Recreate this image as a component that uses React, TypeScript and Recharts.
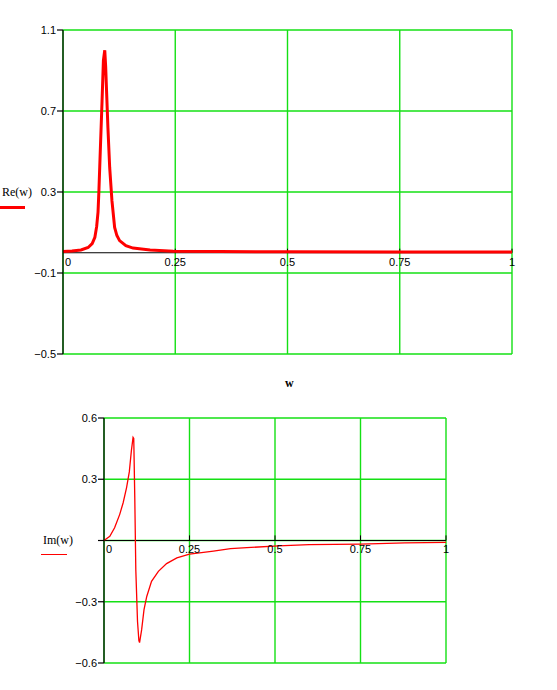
import React from "react";
import { LineChart, Line, XAxis, YAxis, CartesianGrid, ReferenceLine, ReferenceDot } from "recharts";

// Re(w): frequency and value
const reW = [0, 0.02, 0.04, 0.056, 0.065, 0.071, 0.075, 0.078, 0.08, 0.083, 0.087, 0.09, 0.093, 0.095, 0.097, 0.1, 0.104, 0.109, 0.115, 0.12, 0.126, 0.14, 0.156, 0.194, 0.246, 0.35, 0.5, 0.75, 1];
const reVal = [0.006, 0.009, 0.014, 0.026, 0.045, 0.076, 0.13, 0.2, 0.306, 0.5, 0.75, 0.95, 1.0, 0.92, 0.8, 0.62, 0.42, 0.257, 0.125, 0.085, 0.06, 0.035, 0.023, 0.014, 0.008, 0.006, 0.005, 0.004, 0.004];

// Im(w): lower plot
const imW = [0, 0.017, 0.031, 0.046, 0.056, 0.066, 0.074, 0.08, 0.085, 0.087, 0.09, 0.093, 0.098, 0.102, 0.104, 0.11, 0.117, 0.125, 0.139, 0.159, 0.183, 0.213, 0.25, 0.32, 0.37, 0.43, 0.51, 0.6, 0.75, 0.88, 1];
const imVal = [0, 0.021, 0.062, 0.128, 0.185, 0.259, 0.336, 0.439, 0.505, 0.5, 0.21, -0.143, -0.397, -0.49, -0.5, -0.438, -0.339, -0.274, -0.2, -0.151, -0.113, -0.085, -0.067, -0.052, -0.04, -0.034, -0.026, -0.02, -0.018, -0.012, -0.009];

const xTicks = [0, 0.25, 0.5, 0.75, 1];
const xTickLabels = ["0", "0.25", "0.5", "0.75", "1"];
const reYTicks = [-0.5, -0.1, 0.3, 0.7, 1.1];
const reYLabels = ["\u22120.5", "\u22120.1", "0.3", "0.7", "1.1"];
const imYTicks = [-0.6, -0.3, 0, 0.3, 0.6];
const imYLabels = ["\u22120.6", "\u22120.3", "", "0.3", "0.6"];

const GRID = "#14e014";
const RED = "#ff0000";
const FONT = "'Liberation Sans', Arial, sans-serif";
const SERIF = "'Liberation Serif', 'Times New Roman', serif";

const reData = reW.map((w, i) => ({ w, v: reVal[i] }));
const imData = imW.map((w, i) => ({ w, v: imVal[i] }));

function Plot({
  data,
  width,
  height,
  margin,
  yDomain,
  yTicks,
  yLabels,
  tickUp,
  strokeWidth,
}: {
  data: { w: number; v: number }[];
  width: number;
  height: number;
  margin: { top: number; right: number; bottom: number; left: number };
  yDomain: [number, number];
  yTicks: number[];
  yLabels: string[];
  tickUp: number;
  strokeWidth: number;
}) {
  return (
    <LineChart width={width} height={height} data={data} margin={margin}>
      <CartesianGrid stroke={GRID} strokeWidth={1.4} />
      {/* hidden axis only feeds the vertical grid lines; 0 is covered by the y axis */}
      <XAxis dataKey="w" type="number" domain={[0, 1]} ticks={xTicks.slice(1)} hide />
      <YAxis
        type="number"
        domain={yDomain}
        ticks={yTicks}
        width={30}
        axisLine={{ stroke: "#000", strokeWidth: 1.2 }}
        tickLine={{ stroke: "#000", strokeWidth: 1.2 }}
        tickSize={6}
        tickMargin={1}
        tick={{ fill: "#000", fontSize: 11, fontFamily: FONT }}
        tickFormatter={(v: number) => yLabels[yTicks.indexOf(v)] ?? String(v)}
        interval={0}
      />
      <ReferenceLine y={0} stroke="#000" strokeWidth={1.2} />
      {xTicks.slice(1).map((t) => (
        <ReferenceLine key={"t" + t} segment={[{ x: t, y: 0 }, { x: t, y: tickUp }]} stroke="#000" />
      ))}
      {xTicks.map((t, i) => (
        <ReferenceDot
          key={"l" + t}
          x={t}
          y={0}
          r={0}
          fill="none"
          stroke="none"
          label={{
            value: xTickLabels[i],
            position: "bottom",
            offset: 5,
            fill: "#000",
            fontSize: 11,
            fontFamily: FONT,
            dx: i === 0 ? 5 : 0,
          }}
        />
      ))}
      <Line
        dataKey="v"
        type="linear"
        stroke={RED}
        strokeWidth={strokeWidth}
        dot={false}
        activeDot={false}
        isAnimationActive={false}
      />
    </LineChart>
  );
}

export default function App() {
  return (
    <div style={{ position: "absolute", left: 0, top: 0, width: 557, height: 690, background: "#fff", overflow: "hidden" }}>
      <div style={{ position: "absolute", left: 0, top: 0 }}>
        <Plot
          data={reData}
          width={557}
          height={400}
          margin={{ top: 30, right: 45, bottom: 46, left: 33 }}
          yDomain={[-0.5, 1.1]}
          yTicks={reYTicks}
          yLabels={reYLabels}
          tickUp={0.02}
          strokeWidth={3}
        />
      </div>
      <div style={{ position: "absolute", left: 2, top: 185, fontFamily: SERIF, fontSize: 12 }}>Re(w)</div>
      <div style={{ position: "absolute", left: 0, top: 206, width: 25, height: 3, background: RED }} />
      <div style={{ position: "absolute", left: 285, top: 376, fontFamily: SERIF, fontSize: 12, fontWeight: "bold" }}>w</div>

      <div style={{ position: "absolute", left: 0, top: 390 }}>
        <Plot
          data={imData}
          width={557}
          height={300}
          margin={{ top: 28, right: 111, bottom: 27, left: 74 }}
          yDomain={[-0.6, 0.6]}
          yTicks={imYTicks}
          yLabels={imYLabels}
          tickUp={0.025}
          strokeWidth={1.3}
        />
      </div>
      <div style={{ position: "absolute", left: 43, top: 533, fontFamily: SERIF, fontSize: 12 }}>Im(w)</div>
      <div style={{ position: "absolute", left: 41, top: 554, width: 26, height: 1, background: RED }} />
    </div>
  );
}
